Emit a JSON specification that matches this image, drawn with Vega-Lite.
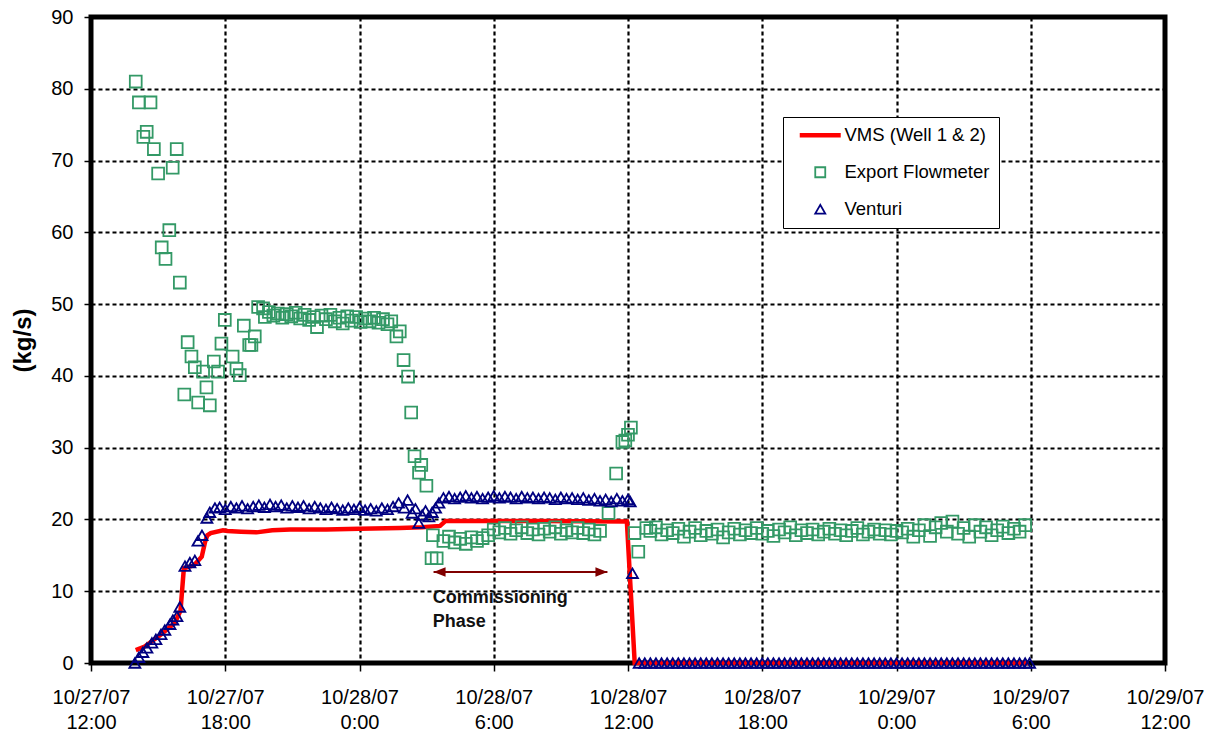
{
  "$schema": "https://vega.github.io/schema/vega-lite/v6.json",
  "width": 1074,
  "height": 646,
  "autosize": {"type": "none"},
  "padding": {"left": 91, "top": 17, "right": 49, "bottom": 73},
  "background": "white",
  "config": {
    "view": {"stroke": "black", "strokeWidth": 5},
    "font": "Liberation Sans",
    "axis": {
      "labelFont": "Liberation Sans",
      "titleFont": "Liberation Sans",
      "labelColor": "black",
      "titleColor": "black",
      "tickColor": "black",
      "tickWidth": 1.5,
      "gridColor": "black",
      "gridDash": [4, 3],
      "gridWidth": 2.2,
      "gridOpacity": 1,
      "domain": false,
      "labelOverlap": false,
      "labelFlush": false
    }
  },
  "datasets": {
    "vms": [
      {"h": 2.0, "v": 1.8, "s": "a"}, {"h": 2.4, "v": 2.3, "s": "a"}, {"h": 3.1, "v": 3.9, "s": "a"},
      {"h": 3.75, "v": 5.6, "s": "a"}, {"h": 4.0, "v": 7.3, "s": "a"}, {"h": 4.15, "v": 13.2, "s": "a"},
      {"h": 4.6, "v": 13.6, "s": "a"}, {"h": 4.95, "v": 14.8, "s": "a"}, {"h": 5.1, "v": 16.9, "s": "a"},
      {"h": 5.2, "v": 17.8, "s": "a"}, {"h": 5.35, "v": 18.1, "s": "a"}, {"h": 5.9, "v": 18.5, "s": "a"},
      {"h": 6.1, "v": 18.4, "s": "a"}, {"h": 6.7, "v": 18.3, "s": "a"}, {"h": 7.4, "v": 18.2, "s": "a"},
      {"h": 8.1, "v": 18.5, "s": "a"}, {"h": 8.9, "v": 18.6, "s": "a"}, {"h": 10.5, "v": 18.6, "s": "a"},
      {"h": 12.0, "v": 18.7, "s": "a"}, {"h": 13.8, "v": 18.8, "s": "a"}, {"h": 14.8, "v": 18.9, "s": "a"},
      {"h": 15.6, "v": 19.1, "s": "a"}, {"h": 15.85, "v": 19.8, "s": "a"}, {"h": 20.0, "v": 19.8, "s": "a"},
      {"h": 23.95, "v": 19.7, "s": "a"}, {"h": 24.3, "v": 0, "s": "a"}, {"h": 41.9, "v": 0, "s": "a"}
    ],
    "flow": [
      {"h": 2.0, "v": 81.0, "s": "b"}, {"h": 2.14, "v": 78.1, "s": "b"}, {"h": 2.34, "v": 73.3, "s": "b"},
      {"h": 2.49, "v": 74.0, "s": "b"}, {"h": 2.66, "v": 78.1, "s": "b"}, {"h": 2.81, "v": 71.6, "s": "b"},
      {"h": 3.0, "v": 68.2, "s": "b"}, {"h": 3.16, "v": 57.9, "s": "b"}, {"h": 3.33, "v": 56.3, "s": "b"},
      {"h": 3.5, "v": 60.3, "s": "b"}, {"h": 3.65, "v": 69.0, "s": "b"}, {"h": 3.83, "v": 71.6, "s": "b"},
      {"h": 3.97, "v": 53.0, "s": "b"}, {"h": 4.17, "v": 37.4, "s": "b"}, {"h": 4.32, "v": 44.7, "s": "b"},
      {"h": 4.49, "v": 42.7, "s": "b"}, {"h": 4.64, "v": 41.2, "s": "b"}, {"h": 4.79, "v": 36.3, "s": "b"},
      {"h": 5.01, "v": 40.6, "s": "b"}, {"h": 5.16, "v": 38.4, "s": "b"}, {"h": 5.31, "v": 35.9, "s": "b"},
      {"h": 5.49, "v": 42.0, "s": "b"}, {"h": 5.68, "v": 40.6, "s": "b"}, {"h": 5.83, "v": 44.5, "s": "b"},
      {"h": 5.98, "v": 47.8, "s": "b"}, {"h": 6.33, "v": 42.7, "s": "b"}, {"h": 6.5, "v": 41.0, "s": "b"},
      {"h": 6.65, "v": 40.1, "s": "b"}, {"h": 6.83, "v": 47.0, "s": "b"}, {"h": 7.07, "v": 44.3, "s": "b"},
      {"h": 7.17, "v": 44.3, "s": "b"}, {"h": 7.32, "v": 45.5, "s": "b"}, {"h": 7.47, "v": 49.6, "s": "b"},
      {"h": 7.69, "v": 49.4, "s": "b"}, {"h": 7.77, "v": 48.2, "s": "b"},
      {"h": 7.95, "v": 48.9, "s": "b"}, {"h": 8.15, "v": 48.4, "s": "b"}, {"h": 8.35, "v": 48.7, "s": "b"},
      {"h": 8.55, "v": 48.1, "s": "b"}, {"h": 8.75, "v": 48.6, "s": "b"}, {"h": 8.95, "v": 48.3, "s": "b"},
      {"h": 9.15, "v": 48.8, "s": "b"}, {"h": 9.35, "v": 48.0, "s": "b"}, {"h": 9.55, "v": 48.5, "s": "b"},
      {"h": 9.75, "v": 47.8, "s": "b"}, {"h": 9.95, "v": 48.2, "s": "b"}, {"h": 10.1, "v": 46.8, "s": "b"},
      {"h": 10.3, "v": 48.4, "s": "b"}, {"h": 10.5, "v": 47.9, "s": "b"}, {"h": 10.7, "v": 48.5, "s": "b"},
      {"h": 10.9, "v": 47.6, "s": "b"}, {"h": 11.1, "v": 48.1, "s": "b"}, {"h": 11.25, "v": 47.3, "s": "b"},
      {"h": 11.45, "v": 48.3, "s": "b"}, {"h": 11.65, "v": 47.7, "s": "b"}, {"h": 11.85, "v": 48.2, "s": "b"},
      {"h": 12.05, "v": 47.5, "s": "b"}, {"h": 12.25, "v": 48.0, "s": "b"}, {"h": 12.45, "v": 47.6, "s": "b"},
      {"h": 12.65, "v": 48.1, "s": "b"}, {"h": 12.85, "v": 47.4, "s": "b"}, {"h": 13.05, "v": 47.9, "s": "b"},
      {"h": 13.25, "v": 47.2, "s": "b"}, {"h": 13.42, "v": 47.6, "s": "b"}, {"h": 13.65, "v": 45.5, "s": "b"},
      {"h": 13.8, "v": 46.2, "s": "b"}, {"h": 13.97, "v": 42.2, "s": "b"}, {"h": 14.17, "v": 39.9, "s": "b"},
      {"h": 14.31, "v": 34.9, "s": "b"}, {"h": 14.46, "v": 28.8, "s": "b"}, {"h": 14.66, "v": 26.5, "s": "b"},
      {"h": 14.76, "v": 27.6, "s": "b"}, {"h": 14.99, "v": 24.7, "s": "b"}, {"h": 15.28, "v": 17.8, "s": "b"},
      {"h": 15.22, "v": 14.6, "s": "b"}, {"h": 15.45, "v": 14.6, "s": "b"},
      {"h": 15.75, "v": 17.0, "s": "b"}, {"h": 16.0, "v": 17.6, "s": "b"}, {"h": 16.25, "v": 16.8, "s": "b"},
      {"h": 16.5, "v": 17.3, "s": "b"}, {"h": 16.75, "v": 16.6, "s": "b"}, {"h": 17.0, "v": 17.5, "s": "b"},
      {"h": 17.25, "v": 17.0, "s": "b"}, {"h": 17.5, "v": 17.4, "s": "b"}, {"h": 17.75, "v": 17.8, "s": "b"},
      {"h": 18.0, "v": 18.6, "s": "b"}, {"h": 18.25, "v": 18.2, "s": "b"}, {"h": 18.5, "v": 18.8, "s": "b"},
      {"h": 18.75, "v": 18.0, "s": "b"}, {"h": 19.0, "v": 18.5, "s": "b"}, {"h": 19.25, "v": 18.9, "s": "b"},
      {"h": 19.5, "v": 18.1, "s": "b"}, {"h": 19.75, "v": 18.6, "s": "b"}, {"h": 20.0, "v": 17.9, "s": "b"},
      {"h": 20.25, "v": 18.7, "s": "b"}, {"h": 20.5, "v": 18.3, "s": "b"}, {"h": 20.75, "v": 18.9, "s": "b"},
      {"h": 21.0, "v": 18.0, "s": "b"}, {"h": 21.25, "v": 18.5, "s": "b"}, {"h": 21.5, "v": 18.2, "s": "b"},
      {"h": 21.75, "v": 18.8, "s": "b"}, {"h": 22.0, "v": 18.1, "s": "b"}, {"h": 22.25, "v": 18.6, "s": "b"},
      {"h": 22.5, "v": 17.9, "s": "b"}, {"h": 22.75, "v": 18.4, "s": "b"}, {"h": 23.13, "v": 20.9, "s": "b"},
      {"h": 23.47, "v": 26.4, "s": "b"}, {"h": 23.75, "v": 30.8, "s": "b"}, {"h": 23.88, "v": 31.0, "s": "b"},
      {"h": 24.0, "v": 31.8, "s": "b"}, {"h": 24.13, "v": 32.8, "s": "b"}, {"h": 24.29, "v": 18.1, "s": "b"},
      {"h": 24.46, "v": 15.5, "s": "b"}, {"h": 24.82, "v": 18.8, "s": "b"},
      {"h": 25.0, "v": 18.4, "s": "b"}, {"h": 25.25, "v": 18.9, "s": "b"}, {"h": 25.5, "v": 17.9, "s": "b"},
      {"h": 25.75, "v": 18.5, "s": "b"}, {"h": 26.0, "v": 18.1, "s": "b"}, {"h": 26.25, "v": 18.7, "s": "b"},
      {"h": 26.5, "v": 17.6, "s": "b"}, {"h": 26.75, "v": 18.3, "s": "b"}, {"h": 27.0, "v": 18.8, "s": "b"},
      {"h": 27.25, "v": 17.8, "s": "b"}, {"h": 27.5, "v": 18.4, "s": "b"}, {"h": 27.75, "v": 18.0, "s": "b"},
      {"h": 28.0, "v": 18.6, "s": "b"}, {"h": 28.25, "v": 17.5, "s": "b"}, {"h": 28.5, "v": 18.2, "s": "b"},
      {"h": 28.75, "v": 18.7, "s": "b"}, {"h": 29.0, "v": 17.9, "s": "b"}, {"h": 29.25, "v": 18.5, "s": "b"},
      {"h": 29.5, "v": 18.1, "s": "b"}, {"h": 29.75, "v": 18.8, "s": "b"}, {"h": 30.0, "v": 18.0, "s": "b"},
      {"h": 30.25, "v": 18.4, "s": "b"}, {"h": 30.5, "v": 17.7, "s": "b"}, {"h": 30.75, "v": 18.6, "s": "b"},
      {"h": 31.0, "v": 18.2, "s": "b"}, {"h": 31.25, "v": 18.9, "s": "b"}, {"h": 31.5, "v": 17.8, "s": "b"},
      {"h": 31.75, "v": 18.5, "s": "b"}, {"h": 32.0, "v": 18.1, "s": "b"}, {"h": 32.25, "v": 18.6, "s": "b"},
      {"h": 32.5, "v": 17.9, "s": "b"}, {"h": 32.75, "v": 18.3, "s": "b"}, {"h": 33.0, "v": 18.7, "s": "b"},
      {"h": 33.25, "v": 18.0, "s": "b"}, {"h": 33.5, "v": 18.5, "s": "b"}, {"h": 33.75, "v": 17.8, "s": "b"},
      {"h": 34.0, "v": 18.4, "s": "b"}, {"h": 34.25, "v": 18.8, "s": "b"}, {"h": 34.5, "v": 17.9, "s": "b"},
      {"h": 34.75, "v": 18.3, "s": "b"}, {"h": 35.0, "v": 18.6, "s": "b"}, {"h": 35.25, "v": 18.0, "s": "b"},
      {"h": 35.5, "v": 18.5, "s": "b"}, {"h": 35.75, "v": 17.9, "s": "b"}, {"h": 36.0, "v": 18.4, "s": "b"},
      {"h": 36.25, "v": 18.2, "s": "b"}, {"h": 36.5, "v": 18.7, "s": "b"}, {"h": 36.75, "v": 17.6, "s": "b"},
      {"h": 37.0, "v": 18.5, "s": "b"}, {"h": 37.25, "v": 19.2, "s": "b"}, {"h": 37.5, "v": 17.7, "s": "b"},
      {"h": 37.75, "v": 18.9, "s": "b"}, {"h": 38.0, "v": 19.5, "s": "b"}, {"h": 38.25, "v": 18.3, "s": "b"},
      {"h": 38.5, "v": 19.7, "s": "b"}, {"h": 38.75, "v": 18.0, "s": "b"}, {"h": 39.0, "v": 18.8, "s": "b"},
      {"h": 39.25, "v": 17.6, "s": "b"}, {"h": 39.5, "v": 19.2, "s": "b"}, {"h": 39.75, "v": 18.3, "s": "b"},
      {"h": 40.0, "v": 18.9, "s": "b"}, {"h": 40.25, "v": 17.8, "s": "b"}, {"h": 40.5, "v": 18.5, "s": "b"},
      {"h": 40.75, "v": 19.0, "s": "b"}, {"h": 41.0, "v": 18.1, "s": "b"}, {"h": 41.25, "v": 18.7, "s": "b"},
      {"h": 41.5, "v": 18.3, "s": "b"}, {"h": 41.75, "v": 19.2, "s": "b"}
    ],
    "vent": [
      {"h": 1.96, "v": 0, "s": "c"}, {"h": 2.14, "v": 0.8, "s": "c"}, {"h": 2.32, "v": 1.5, "s": "c"},
      {"h": 2.5, "v": 2.1, "s": "c"}, {"h": 2.72, "v": 2.8, "s": "c"}, {"h": 2.9, "v": 3.3, "s": "c"},
      {"h": 3.13, "v": 4.0, "s": "c"}, {"h": 3.3, "v": 4.6, "s": "c"}, {"h": 3.53, "v": 5.4, "s": "c"},
      {"h": 3.66, "v": 6.0, "s": "c"}, {"h": 3.84, "v": 6.5, "s": "c"}, {"h": 3.97, "v": 7.8, "s": "c"},
      {"h": 4.2, "v": 13.5, "s": "c"}, {"h": 4.42, "v": 14.0, "s": "c"}, {"h": 4.64, "v": 14.3, "s": "c"},
      {"h": 4.78, "v": 17.0, "s": "c"}, {"h": 4.96, "v": 17.8, "s": "c"}, {"h": 5.18, "v": 20.2, "s": "c"},
      {"h": 5.31, "v": 21.0, "s": "c"}, {"h": 5.54, "v": 21.6, "s": "c"},
      {"h": 5.75, "v": 21.7, "s": "c"}, {"h": 6.0, "v": 21.4, "s": "c"}, {"h": 6.25, "v": 21.8, "s": "c"},
      {"h": 6.5, "v": 21.6, "s": "c"}, {"h": 6.75, "v": 21.9, "s": "c"}, {"h": 7.0, "v": 21.5, "s": "c"},
      {"h": 7.25, "v": 21.8, "s": "c"}, {"h": 7.5, "v": 22.0, "s": "c"}, {"h": 7.75, "v": 21.7, "s": "c"},
      {"h": 8.0, "v": 22.1, "s": "c"}, {"h": 8.25, "v": 21.8, "s": "c"}, {"h": 8.5, "v": 22.0, "s": "c"},
      {"h": 8.75, "v": 21.6, "s": "c"}, {"h": 9.0, "v": 21.9, "s": "c"}, {"h": 9.25, "v": 21.7, "s": "c"},
      {"h": 9.5, "v": 21.9, "s": "c"}, {"h": 9.75, "v": 21.5, "s": "c"}, {"h": 10.0, "v": 21.8, "s": "c"},
      {"h": 10.25, "v": 21.6, "s": "c"}, {"h": 10.5, "v": 21.4, "s": "c"}, {"h": 10.75, "v": 21.7, "s": "c"},
      {"h": 11.0, "v": 21.5, "s": "c"}, {"h": 11.25, "v": 21.3, "s": "c"}, {"h": 11.5, "v": 21.6, "s": "c"},
      {"h": 11.75, "v": 21.4, "s": "c"}, {"h": 12.0, "v": 21.7, "s": "c"}, {"h": 12.25, "v": 21.3, "s": "c"},
      {"h": 12.5, "v": 21.5, "s": "c"}, {"h": 12.75, "v": 21.2, "s": "c"}, {"h": 13.0, "v": 21.6, "s": "c"},
      {"h": 13.25, "v": 21.4, "s": "c"}, {"h": 13.5, "v": 21.8, "s": "c"}, {"h": 13.75, "v": 22.3, "s": "c"},
      {"h": 14.0, "v": 21.6, "s": "c"}, {"h": 14.15, "v": 22.7, "s": "c"}, {"h": 14.35, "v": 20.9, "s": "c"},
      {"h": 14.5, "v": 21.5, "s": "c"}, {"h": 14.65, "v": 19.5, "s": "c"}, {"h": 14.8, "v": 20.6, "s": "c"},
      {"h": 14.95, "v": 21.2, "s": "c"}, {"h": 15.1, "v": 20.4, "s": "c"}, {"h": 15.25, "v": 21.0, "s": "c"},
      {"h": 15.4, "v": 21.6, "s": "c"}, {"h": 15.55, "v": 22.3, "s": "c"},
      {"h": 15.75, "v": 23.0, "s": "c"}, {"h": 16.0, "v": 23.2, "s": "c"}, {"h": 16.25, "v": 22.9, "s": "c"},
      {"h": 16.5, "v": 23.1, "s": "c"}, {"h": 16.75, "v": 23.3, "s": "c"}, {"h": 17.0, "v": 23.0, "s": "c"},
      {"h": 17.25, "v": 23.2, "s": "c"}, {"h": 17.5, "v": 22.9, "s": "c"}, {"h": 17.75, "v": 23.1, "s": "c"},
      {"h": 18.0, "v": 23.3, "s": "c"}, {"h": 18.25, "v": 23.0, "s": "c"}, {"h": 18.5, "v": 23.2, "s": "c"},
      {"h": 18.75, "v": 23.1, "s": "c"}, {"h": 19.0, "v": 22.9, "s": "c"}, {"h": 19.25, "v": 23.2, "s": "c"},
      {"h": 19.5, "v": 23.0, "s": "c"}, {"h": 19.75, "v": 23.1, "s": "c"}, {"h": 20.0, "v": 22.9, "s": "c"},
      {"h": 20.25, "v": 23.1, "s": "c"}, {"h": 20.5, "v": 23.0, "s": "c"}, {"h": 20.75, "v": 22.8, "s": "c"},
      {"h": 21.0, "v": 23.1, "s": "c"}, {"h": 21.25, "v": 22.9, "s": "c"}, {"h": 21.5, "v": 23.0, "s": "c"},
      {"h": 21.75, "v": 22.8, "s": "c"}, {"h": 22.0, "v": 23.0, "s": "c"}, {"h": 22.25, "v": 22.7, "s": "c"},
      {"h": 22.5, "v": 22.9, "s": "c"}, {"h": 22.75, "v": 22.6, "s": "c"}, {"h": 23.0, "v": 22.8, "s": "c"},
      {"h": 23.25, "v": 22.5, "s": "c"}, {"h": 23.5, "v": 22.9, "s": "c"}, {"h": 23.75, "v": 22.6, "s": "c"},
      {"h": 24.0, "v": 22.8, "s": "c"}, {"h": 24.1, "v": 22.5, "s": "c"}, {"h": 24.2, "v": 12.5, "s": "c"},
      {"h": 24.5, "v": 0, "s": "c"}, {"h": 24.75, "v": 0, "s": "c"}, {"h": 25.0, "v": 0, "s": "c"},
      {"h": 25.25, "v": 0, "s": "c"}, {"h": 25.5, "v": 0, "s": "c"}, {"h": 25.75, "v": 0, "s": "c"},
      {"h": 26.0, "v": 0, "s": "c"}, {"h": 26.25, "v": 0, "s": "c"}, {"h": 26.5, "v": 0, "s": "c"},
      {"h": 26.75, "v": 0, "s": "c"}, {"h": 27.0, "v": 0, "s": "c"}, {"h": 27.25, "v": 0, "s": "c"},
      {"h": 27.5, "v": 0, "s": "c"}, {"h": 27.75, "v": 0, "s": "c"}, {"h": 28.0, "v": 0, "s": "c"},
      {"h": 28.25, "v": 0, "s": "c"}, {"h": 28.5, "v": 0, "s": "c"}, {"h": 28.75, "v": 0, "s": "c"},
      {"h": 29.0, "v": 0, "s": "c"}, {"h": 29.25, "v": 0, "s": "c"}, {"h": 29.5, "v": 0, "s": "c"},
      {"h": 29.75, "v": 0, "s": "c"}, {"h": 30.0, "v": 0, "s": "c"}, {"h": 30.25, "v": 0, "s": "c"},
      {"h": 30.5, "v": 0, "s": "c"}, {"h": 30.75, "v": 0, "s": "c"}, {"h": 31.0, "v": 0, "s": "c"},
      {"h": 31.25, "v": 0, "s": "c"}, {"h": 31.5, "v": 0, "s": "c"}, {"h": 31.75, "v": 0, "s": "c"},
      {"h": 32.0, "v": 0, "s": "c"}, {"h": 32.25, "v": 0, "s": "c"}, {"h": 32.5, "v": 0, "s": "c"},
      {"h": 32.75, "v": 0, "s": "c"}, {"h": 33.0, "v": 0, "s": "c"}, {"h": 33.25, "v": 0, "s": "c"},
      {"h": 33.5, "v": 0, "s": "c"}, {"h": 33.75, "v": 0, "s": "c"}, {"h": 34.0, "v": 0, "s": "c"},
      {"h": 34.25, "v": 0, "s": "c"}, {"h": 34.5, "v": 0, "s": "c"}, {"h": 34.75, "v": 0, "s": "c"},
      {"h": 35.0, "v": 0, "s": "c"}, {"h": 35.25, "v": 0, "s": "c"}, {"h": 35.5, "v": 0, "s": "c"},
      {"h": 35.75, "v": 0, "s": "c"}, {"h": 36.0, "v": 0, "s": "c"}, {"h": 36.25, "v": 0, "s": "c"},
      {"h": 36.5, "v": 0, "s": "c"}, {"h": 36.75, "v": 0, "s": "c"}, {"h": 37.0, "v": 0, "s": "c"},
      {"h": 37.25, "v": 0, "s": "c"}, {"h": 37.5, "v": 0, "s": "c"}, {"h": 37.75, "v": 0, "s": "c"},
      {"h": 38.0, "v": 0, "s": "c"}, {"h": 38.25, "v": 0, "s": "c"}, {"h": 38.5, "v": 0, "s": "c"},
      {"h": 38.75, "v": 0, "s": "c"}, {"h": 39.0, "v": 0, "s": "c"}, {"h": 39.25, "v": 0, "s": "c"},
      {"h": 39.5, "v": 0, "s": "c"}, {"h": 39.75, "v": 0, "s": "c"}, {"h": 40.0, "v": 0, "s": "c"},
      {"h": 40.25, "v": 0, "s": "c"}, {"h": 40.5, "v": 0, "s": "c"}, {"h": 40.75, "v": 0, "s": "c"},
      {"h": 41.0, "v": 0, "s": "c"}, {"h": 41.25, "v": 0, "s": "c"}, {"h": 41.5, "v": 0, "s": "c"},
      {"h": 41.75, "v": 0, "s": "c"}, {"h": 41.95, "v": 0, "s": "c"}
    ],
    "arrow": [{"h": 15.31, "h2": 23.08, "v": 12.68}],
    "note": [{"h": 15.27, "v": 8.36, "label": "Commissioning\nPhase"}]
  },
  "encoding": {
    "x": {
      "field": "h", "type": "quantitative",
      "scale": {"domain": [0, 48], "nice": false, "zero": false},
      "axis": {
        "title": null,
        "values": [0, 6, 12, 18, 24, 30, 36, 42, 48],
        "labelExpr": "[datum.value < 12 ? '10/27/07' : (datum.value < 36 ? '10/28/07' : '10/29/07'), ['12:00','18:00','0:00','6:00'][(datum.value / 6) % 4]]",
        "labelFontSize": 20,
        "labelLineHeight": 25,
        "labelPadding": 16,
        "tickSize": 8,
        "grid": true
      }
    },
    "y": {
      "field": "v", "type": "quantitative",
      "scale": {"domain": [0, 90], "nice": false},
      "axis": {
        "title": "(kg/s)",
        "values": [0, 10, 20, 30, 40, 50, 60, 70, 80, 90],
        "labelFontSize": 20,
        "labelPadding": 11,
        "tickSize": 7,
        "titleFontSize": 24,
        "titleFontWeight": "bold",
        "titleAngle": -90,
        "titleX": -68,
        "titleY": 323,
        "titleAlign": "center",
        "titleBaseline": "middle",
        "grid": true
      }
    }
  },
  "layer": [
    {
      "data": {"name": "vms"},
      "mark": {"type": "line", "strokeWidth": 4.5, "clip": false},
      "encoding": {
        "color": {
          "field": "s", "type": "nominal",
          "scale": {"domain": ["a", "b", "c"], "range": ["#ff0000", "#339966", "#000080"]},
          "legend": {
            "orient": "none", "legendX": 692, "legendY": 100, "title": null,
            "strokeColor": "black", "fillColor": "white", "padding": 9,
            "labelFontSize": 18.5, "labelFont": "Liberation Sans", "labelColor": "black",
            "rowPadding": 18, "symbolSize": 100, "symbolStrokeWidth": 1.8,
            "symbolOffset": 19, "labelOffset": 15,
            "labelExpr": "datum.label == 'a' ? 'VMS (Well 1 & 2)' : (datum.label == 'b' ? 'Export Flowmeter' : 'Venturi')",
            "encode": {"symbols": {"update": {"strokeWidth": {"signal": "datum.value == 'a' ? 4.5 : 1.8"}}}}
          }
        }
      }
    },
    {
      "data": {"name": "flow"},
      "mark": {"type": "point", "filled": false, "size": 140, "strokeWidth": 1.8, "opacity": 1, "clip": false},
      "encoding": {
        "color": {"field": "s", "type": "nominal"},
        "shape": {
          "field": "s", "type": "nominal",
          "scale": {"domain": ["a", "b", "c"], "range": ["M-4.1,0H4.1", "square", "triangle-up"]}
        }
      }
    },
    {
      "data": {"name": "vent"},
      "mark": {"type": "point", "filled": false, "size": 120, "strokeWidth": 1.8, "opacity": 1, "clip": false},
      "encoding": {
        "color": {"field": "s", "type": "nominal"},
        "shape": {"field": "s", "type": "nominal"}
      }
    },
    {
      "data": {"name": "arrow"},
      "mark": {"type": "rule", "color": "#800000", "strokeWidth": 2},
      "encoding": {"x2": {"field": "h2"}}
    },
    {
      "data": {"name": "arrow"},
      "mark": {"type": "point", "filled": true, "color": "#800000", "opacity": 1, "size": 36, "shape": "M0,0L4,-1.6L4,1.6Z"},
      "encoding": {}
    },
    {
      "data": {"name": "arrow"},
      "mark": {"type": "point", "filled": true, "color": "#800000", "opacity": 1, "size": 36, "shape": "M0,0L-4,-1.6L-4,1.6Z"},
      "encoding": {"x": {"field": "h2", "type": "quantitative"}}
    },
    {
      "data": {"name": "note"},
      "mark": {"type": "text", "align": "left", "baseline": "alphabetic", "fontSize": 18, "fontWeight": "bold", "lineBreak": "\n", "lineHeight": 24, "color": "#111111", "font": "Liberation Sans"},
      "encoding": {"text": {"field": "label"}}
    }
  ]
}
